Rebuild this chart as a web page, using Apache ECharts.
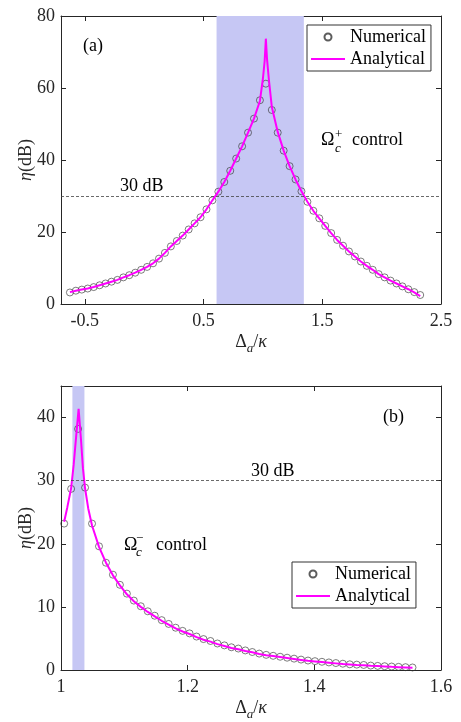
<!DOCTYPE html>
<html><head><meta charset="utf-8">
<script src="https://cdn.jsdelivr.net/npm/echarts@6/dist/echarts.min.js"></script>
<style>html,body{margin:0;padding:0;background:#fff}#c{width:461px;height:722px}</style>
</head><body><div id="c"></div>
<script>
// ---------- Panel (a) data ----------
const numA_x = [-0.625,-0.575,-0.525,-0.475,-0.425,-0.375,-0.325,-0.275,-0.225,-0.175,-0.125,-0.075,-0.025,0.025,0.075,0.125,0.175,0.225,0.275,0.325,0.375,0.425,0.475,0.525,0.575,0.625,0.675,0.725,0.775,0.825,0.875,0.925,0.975,1.025,1.075,1.125,1.175,1.225,1.275,1.325,1.375,1.425,1.475,1.525,1.575,1.625,1.675,1.725,1.775,1.825,1.875,1.925,1.975,2.025,2.075,2.125,2.175,2.225,2.275,2.325];
const numA_y = [3.2,3.7,4.0,4.3,4.7,5.2,5.7,6.2,6.7,7.4,8.0,8.7,9.5,10.3,11.3,12.6,14.2,16.0,17.5,19.0,20.7,22.4,24.1,26.3,28.8,31.2,33.9,37.0,40.4,43.8,47.6,51.5,56.6,61.2,53.9,47.6,42.6,38.3,34.6,31.3,28.4,25.9,23.8,21.7,19.7,17.8,16.2,14.6,13.2,11.8,10.6,9.5,8.3,7.4,6.5,5.7,4.9,4.1,3.3,2.5];
const lineA_x = [-0.625,-0.575,-0.525,-0.475,-0.425,-0.375,-0.325,-0.275,-0.225,-0.175,-0.125,-0.075,-0.025,0.025,0.075,0.125,0.175,0.225,0.275,0.325,0.375,0.425,0.475,0.525,0.575,0.625,0.675,0.725,0.775,0.825,0.875,0.925,0.975,1.0,1.015,1.025,1.035,1.05,1.075,1.125,1.175,1.225,1.275,1.325,1.375,1.425,1.475,1.525,1.575,1.625,1.675,1.725,1.775,1.825,1.875,1.925,1.975,2.025,2.075,2.125,2.175,2.225,2.275,2.325];
const lineA_y = [3.3,3.7,4.0,4.3,4.7,5.2,5.7,6.2,6.7,7.4,8.0,8.7,9.5,10.3,11.3,12.6,14.2,16.0,17.5,19.0,20.7,22.4,24.1,26.3,28.8,31.2,33.9,37.0,40.4,43.8,47.6,51.5,56.4,62.5,67.5,73.7,68.0,62.5,54.8,47.8,42.6,38.3,34.6,31.3,28.4,25.9,23.8,21.7,19.7,17.8,16.2,14.6,13.2,11.8,10.6,9.5,8.3,7.4,6.5,5.7,4.9,4.1,3.2,2.2];
const bandA = [0.61, 1.345];
const threshA = 30;
const xTicksA = [-0.5, 0.5, 1.5, 2.5];
const yTicksA = [0, 20, 40, 60, 80];

// ---------- Panel (b) data ----------
const numB_x = [1.005,1.016,1.027,1.038,1.049,1.060,1.071,1.082,1.093,1.104,1.115,1.126,1.137,1.148,1.159,1.170,1.181,1.192,1.203,1.214,1.225,1.236,1.247,1.258,1.269,1.280,1.291,1.302,1.313,1.324,1.335,1.346,1.357,1.368,1.379,1.390,1.401,1.412,1.423,1.434,1.445,1.456,1.467,1.478,1.489,1.500,1.511,1.522,1.533,1.544,1.555];
const numB_y = [23.2,28.7,38.2,28.9,23.2,19.6,17.0,15.1,13.5,12.1,11.0,10.1,9.3,8.6,7.9,7.3,6.7,6.2,5.8,5.3,4.9,4.6,4.2,3.9,3.6,3.4,3.1,2.85,2.6,2.4,2.25,2.1,1.95,1.8,1.65,1.5,1.4,1.3,1.2,1.1,1.0,0.9,0.85,0.8,0.7,0.65,0.6,0.55,0.5,0.45,0.4];
const lineB_x = [1.005,1.010,1.016,1.020,1.024,1.0278,1.0315,1.0347,1.038,1.043,1.049,1.060,1.071,1.082,1.093,1.104,1.115,1.126,1.137,1.148,1.159,1.170,1.181,1.192,1.203,1.214,1.225,1.236,1.247,1.258,1.269,1.280,1.291,1.302,1.313,1.324,1.335,1.346,1.357,1.368,1.379,1.390,1.401,1.412,1.423,1.434,1.445,1.456,1.467,1.478,1.489,1.500,1.511,1.522,1.533,1.544,1.555];
const lineB_y = [23.5,25.8,28.8,32.5,37.1,41.4,36.6,31.9,28.8,25.6,22.9,19.5,17.0,15.0,13.4,12.0,10.9,10.0,9.2,8.5,7.8,7.2,6.6,6.1,5.7,5.2,4.8,4.5,4.1,3.8,3.5,3.3,3.0,2.8,2.55,2.35,2.2,2.05,1.9,1.75,1.6,1.45,1.35,1.25,1.15,1.05,0.95,0.88,0.8,0.75,0.68,0.62,0.56,0.5,0.45,0.4,0.35];
const bandB = [1.018, 1.037];
const threshB = 30;
const xTicksB = [1, 1.2, 1.4, 1.6];
const yTicksB = [0, 10, 20, 30, 40];

const FONT = '"Liberation Serif", "Times New Roman", serif';
const AX = '#262626';
const pairs = (xs, ys) => xs.map((x, i) => [x, ys[i]]);

function richName() {
  return {
    fontFamily: FONT, fontSize: 18, color: AX,
    rich: {
      d: { fontFamily: FONT, fontSize: 18, color: AX, lineHeight: 26, verticalAlign: 'middle' },
      k: { fontFamily: FONT, fontSize: 18, color: AX, fontStyle: 'italic', lineHeight: 26, verticalAlign: 'middle' },
      s: { fontFamily: FONT, fontSize: 13, color: AX, fontStyle: 'italic', lineHeight: 13, verticalAlign: 'bottom' }
    }
  };
}

function xPair(g, min, max, ticks, nameGap) {
  const line = { show: true, onZero: false, lineStyle: { color: AX, width: 1 } };
  return [
    { type: 'value', gridIndex: g, min, max, position: 'bottom', axisLine: line,
      axisTick: { show: true, inside: true, length: 5, customValues: ticks, lineStyle: { color: AX } },
      axisLabel: { customValues: ticks, margin: 8, color: AX, fontFamily: FONT, fontSize: 18, formatter: v => String(v) },
      splitLine: { show: false },
      name: '{d|Δ}{s|a}{d|/}{k|κ}', nameLocation: 'middle', nameGap, nameMoveOverlap: false, nameTextStyle: richName() },
    { type: 'value', gridIndex: g, min, max, position: 'top', axisLine: line,
      axisTick: { show: true, inside: true, length: 5, customValues: ticks, lineStyle: { color: AX } },
      axisLabel: { show: false }, splitLine: { show: false } }
  ];
}
function yPair(g, min, max, ticks) {
  const line = { show: true, onZero: false, lineStyle: { color: AX, width: 1 } };
  return [
    { type: 'value', gridIndex: g, min, max, position: 'left', axisLine: line,
      axisTick: { show: true, inside: true, length: 5, customValues: ticks, lineStyle: { color: AX } },
      axisLabel: { customValues: ticks, margin: 6, color: AX, fontFamily: FONT, fontSize: 18 },
      splitLine: { show: false },
      name: '{k|η}{d|(dB)}', nameLocation: 'middle', nameGap: 22, nameRotate: 90, nameMoveOverlap: false, nameTextStyle: richName() },
    { type: 'value', gridIndex: g, min, max, position: 'right', axisLine: line,
      axisTick: { show: true, inside: true, length: 5, customValues: ticks, lineStyle: { color: AX } },
      axisLabel: { show: false }, splitLine: { show: false } }
  ];
}

function numSeries(xi, yi, data, band, thr) {
  return {
    name: 'Numerical', type: 'scatter', xAxisIndex: xi, yAxisIndex: yi, data,
    symbol: 'circle', symbolSize: 7, z: 3,
    itemStyle: { color: 'rgba(0,0,0,0)', borderColor: '#333', borderWidth: 0.8 },
    markArea: { silent: true, itemStyle: { color: '#c6c7f4' }, data: [[{ xAxis: band[0] }, { xAxis: band[1] }]] },
    markLine: { silent: true, symbol: ['none', 'none'], label: { show: false },
      lineStyle: { color: '#444', width: 0.8, type: [3, 2] }, data: [{ yAxis: thr }] }
  };
}
function lineSeries(xi, yi, data) {
  return { name: 'Analytical', type: 'line', xAxisIndex: xi, yAxisIndex: yi, data,
    symbol: 'none', showSymbol: false, z: 4, lineStyle: { color: '#ff00ff', width: 2 }, itemStyle: { color: '#ff00ff' } };
}

function legend(left, top) {
  return { left, top, orient: 'vertical',
    data: [{ name: 'Numerical' }, { name: 'Analytical', icon: 'path://M0,0L34,0L34,2L0,2Z' }],
    backgroundColor: '#fff', borderColor: '#333', borderWidth: 1, padding: [3, 5, 3, 4],
    itemWidth: 34, itemHeight: 7, itemGap: 4,
    textStyle: { fontFamily: FONT, fontSize: 18, color: '#000' }, selectedMode: false };
}

function txt(x, y, text, size, italic) {
  return { type: 'text', x, y, silent: true, z: 100,
    style: { text, fill: '#000', fontFamily: 'Liberation Serif', fontSize: size || 18,
      fontStyle: italic ? 'italic' : 'normal', verticalAlign: 'middle', align: 'left' } };
}

const xa = xPair(0, -0.7, 2.5, xTicksA, 25);
const xb = xPair(1, 1, 1.6, xTicksB, 25);
const ya = yPair(0, 0, 80, yTicksA);
const yb = yPair(1, 0, 45, yTicksB);

const option = {
  animation: false,
  backgroundColor: '#fff',
  grid: [
    { left: 61, top: 16, width: 380, height: 288 },
    { left: 61, top: 386, width: 380, height: 289 }
  ],
  xAxis: [xa[0], xa[1], xb[0], xb[1]],
  yAxis: [ya[0], ya[1], yb[0], yb[1]],
  legend: [legend(307, 25), legend(292, 562)],
  series: [
    numSeries(0, 0, pairs(numA_x, numA_y), bandA, threshA),
    lineSeries(0, 0, pairs(lineA_x, lineA_y)),
    numSeries(2, 2, pairs(numB_x, numB_y), bandB, threshB),
    lineSeries(2, 2, pairs(lineB_x, lineB_y))
  ],
  graphic: [
    txt(83, 46, '(a)'),
    txt(120, 186, '30 dB'),
    txt(321, 140, 'Ω'),
    txt(335, 149, 'c', 13, true),
    txt(335, 135, '+', 13),
    txt(352, 140, 'control'),
    txt(383, 417, '(b)'),
    txt(251, 471, '30 dB'),
    txt(124, 545, 'Ω'),
    txt(136, 553, 'c', 13, true),
    txt(136, 539, '−', 13),
    txt(156, 545, 'control')
  ]
};
const chart = echarts.init(document.getElementById('c'));
chart.setOption(option);
</script></body></html>
